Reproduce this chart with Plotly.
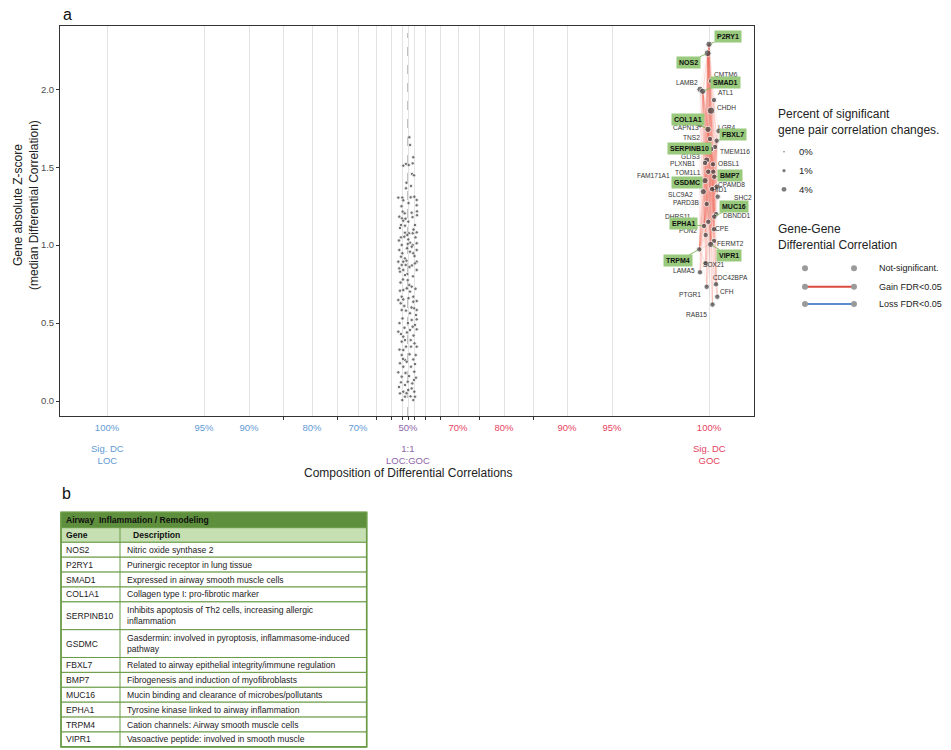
import numpy as np
import plotly.graph_objects as go

FONT = "Liberation Sans, Arial, sans-serif"

# ---------------- data ----------------
# genes without significant differential correlation (cloud at 1:1)
cloud_pos_top = [1.3, 2.0, 5.3, -4.7, -2.0, 0.7, 4.7, 4.0, 6.0, -2.0,
                 -9.7, -5.7, -4.7, 2.7, 6.3, 8.7, 8.7, -5.3, -3.3, 3.7,
                 9.0, 9.0, -8.7, -6.0]
cloud_z_top = [1.692, 1.643, 1.564, 1.510, 1.521, 1.514, 1.525, 1.457, 1.448, 1.365,
               1.305, 1.305, 1.288, 1.307, 1.311, 1.290, 1.256, 1.215, 1.204, 1.208,
               1.217, 1.192, 1.183, 1.172]
cloud_pos_mid = [-4.7, -7.0, -3.0, 0.3, 7.0, 8.7, 4.7, 1.0, -3.0, -0.7,
                 -3.7, -7.0, 0.3, 2.0, -0.3, 4.7, 8.7, -6.3, 3.7, 8.7,
                 -8.7, 2.0, -5.7, 5.3, -7.0, -3.0, -4.7, 8.7, 7.0, -9.7,
                 -6.3, -2.3, -8.7, -4.7, -8.0, -0.7, -3.0, 8.7, -0.3, 1.3,
                 3.7, -1.3, -4.7, -8.0, 2.0, -6.3, -4.7, 5.3, -9.7, -7.3,
                 -3.7, -6.3, 8.7, 5.3, 6.0, 8.7, 2.0, 8.0, 8.7, 3.7,
                 7.0, 4.7, 8.7, 2.0, -9.7, -7.0, -4.7, -3.0, 2.7, -6.3,
                 8.7, 3.0, -2.0, -4.7, -6.3, -3.0, 7.7, 5.3, 7.0, -8.0,
                 -1.3, -4.7, -9.7, -6.3, 6.3, 6.0, -0.3, -3.0, 4.3, 3.7,
                 -4.7, -8.0, 6.3, 7.0, -3.0, 0.3, -5.7, 5.3]
cloud_z_mid = [1.157, 1.129, 1.125, 1.151, 1.129, 1.082, 1.076, 1.076, 1.080, 1.065,
               1.054, 1.050, 1.037, 1.016, 1.008, 1.001, 1.012, 1.001, 0.990, 0.969,
               0.969, 0.958, 0.948, 0.948, 0.926, 0.915, 0.894, 0.894, 0.883, 0.894,
               0.873, 0.873, 0.851, 0.841, 0.830, 0.815, 0.808, 0.841, 0.776, 0.744,
               0.734, 0.723, 0.712, 0.708, 0.702, 0.669, 0.652, 0.669, 0.648, 0.627,
               0.610, 0.584, 0.642, 0.637, 0.595, 0.584, 0.563, 0.552, 0.524, 0.520,
               0.488, 0.477, 0.460, 0.456, 0.445, 0.430, 0.413, 0.391, 0.391, 0.381,
               0.349, 0.349, 0.349, 0.327, 0.295, 0.263, 0.295, 0.267, 0.237, 0.242,
               0.252, 0.220, 0.184, 0.156, 0.188, 0.135, 0.124, 0.103, 0.113, 0.081,
               0.060, 0.049, 0.060, 0.028, 0.028, 0.071, 0.006, 0.006]
cloud_pos_low = [-1.5, 3.0, -6.5, 0.5, -8.0, 5.5, -1.0, 6.5, -5.0, 5.0,
                 -7.5, 7.5, 0.5, -2.0, 3.5, -5.5, 0.0, -8.5, 5.5, -1.0,
                 6.5, -8.5, 1.5, -5.0, 3.0, -2.5, 8.0, -7.0, 1.0, -1.5,
                 2.5, -9.0, 4.5, -2.5, 7.5, -9.0, 1.5, -1.5, 4.0, -3.5]
cloud_z_low = [1.40, 1.38, 1.25, 1.27, 1.11, 1.10, 0.98, 0.93, 0.78, 0.80,
               0.76, 0.72, 0.66, 0.58, 0.60, 0.53, 0.50, 0.50, 0.42, 0.44,
               0.37, 0.33, 0.30, 0.27, 0.22, 0.18, 0.15, 0.12, 0.16, 0.05,
               0.03, 0.09, 1.18, 1.17, 1.05, 1.03, 0.86, 0.90, 0.87, 0.47]

# genes with significant gain of correlation (GOC side)
gene_names = ["P2RY1", "NOS2", "CMTM6", "LAMB2", "SMAD1", "ATL1", "CHDH", "CAPN13",
              "COL1A1", "LGR4", "TNS2", "FBXL7", "TMEM116", "SERPINB10", "GLIS3",
              "PLXNB1", "OBSL1", "TOM1L1", "FAM171A1", "BMP7", "GSDMC", "CPAMD8",
              "HID1", "SLC9A2", "SHC2", "PARD3B", "DBNDD1", "MUC16", "DHRS11",
              "EPHA1", "CPE", "PON2", "FERMT2", "VIPR1", "TRPM4", "SOX21", "LAMA5",
              "CDC42BPA", "PTGR1", "CFH", "RAB15"]
gene_pos = [301, 299.7, 303, 292, 294.7, 306, 303, 292, 300, 310.5, 302, 308.7, 307,
            302.7, 298.7, 297, 305, 300.3, 305.3, 306.3, 297, 308.7, 304, 295.3,
            309.7, 298.7, 308, 306.3, 300.3, 296, 306, 297.7, 306, 302.7, 291.3,
            297.7, 292, 308, 298.7, 309.3, 304.5]
gene_z = [2.289, 2.231, 2.053, 2.000, 1.987, 1.931, 1.863, 1.769, 1.743, 1.732,
          1.681, 1.670, 1.630, 1.617, 1.546, 1.527, 1.519, 1.471, 1.471, 1.439,
          1.414, 1.375, 1.360, 1.343, 1.311, 1.264, 1.200, 1.183, 1.150, 1.123,
          1.102, 1.065, 1.027, 1.005, 0.973, 0.884, 0.826, 0.749, 0.733, 0.669, 0.619]
gene_pct = [2, 3, 1, 2, 2, 1, 4, 1, 2, 1, 1, 1, 1, 2, 2, 1, 1, 1, 1, 1, 2, 1, 1, 2,
            1, 1, 1, 1, 1, 1, 1, 1, 1, 2, 1, 1, 1, 1, 1, 1, 1]
highlight_genes = ["P2RY1", "NOS2", "SMAD1", "COL1A1", "FBXL7", "SERPINB10", "BMP7",
                   "GSDMC", "MUC16", "EPHA1", "VIPR1", "TRPM4"]

# x axis (composition scale)
major_tick_pos = [-301, -204, -159, -96, -50, 0, 50, 96, 159, 204, 301]
major_tick_text = ["100%", "95%", "90%", "80%", "70%", "50%", "70%", "80%", "90%", "95%", "100%"]
minor_tick_pos = [-125, -71, -32, -17, -6, 6, 17, 32, 71, 125]

size_legend_pct = [0, 1, 4]
size_legend_text = ["0%", "1%", "4%"]
dc_legend_text = ["Not-significant.", "Gain FDR<0.05", "Loss FDR<0.05"]

table_title = "Airway  Inflammation / Remodeling"
table_header = ["Gene", "Description"]
table_genes = ["NOS2", "P2RY1", "SMAD1", "COL1A1", "SERPINB10", "GSDMC", "FBXL7",
               "BMP7", "MUC16", "EPHA1", "TRPM4", "VIPR1"]
table_desc = ["Nitric oxide synthase 2",
              "Purinergic receptor in lung tissue",
              "Expressed in airway smooth muscle cells",
              "Collagen type I: pro-fibrotic marker",
              "Inhibits apoptosis of Th2 cells, increasing allergic<br>inflammation",
              "Gasdermin: involved in pyroptosis, inflammasome-induced<br>pathway",
              "Related to airway epithelial integrity/immune regulation",
              "Fibrogenesis and induction of myofibroblasts",
              "Mucin binding and clearance of microbes/pollutants",
              "Tyrosine kinase linked to airway inflammation",
              "Cation channels: Airway smooth muscle cells",
              "Vasoactive peptide: involved in smooth muscle"]

# ---------------- layout helpers (label placement) ----------------
label_xy = {"CMTM6": (317.7, 2.096), "LAMB2": (278.7, 2.045), "ATL1": (318, 1.978),
            "CHDH": (318.7, 1.886), "LGR4": (319, 1.758), "CAPN13": (277.7, 1.756),
            "TNS2": (283.7, 1.692), "TMEM116": (327, 1.604), "GLIS3": (282, 1.568),
            "PLXNB1": (275, 1.521), "OBSL1": (321, 1.521), "TOM1L1": (279.7, 1.465),
            "FAM171A1": (245, 1.446), "CPAMD8": (323.7, 1.386), "HID1": (311.3, 1.354),
            "SLC9A2": (272, 1.328), "SHC2": (334.7, 1.307), "PARD3B": (277.7, 1.275),
            "DBNDD1": (328.7, 1.193), "DHRS11": (270.3, 1.187), "PON2": (279.7, 1.091),
            "CPE": (313.7, 1.108), "FERMT2": (322.7, 1.012), "SOX21": (306, 0.877),
            "LAMA5": (276.3, 0.836), "CDC42BPA": (322.7, 0.794), "PTGR1": (282, 0.682),
            "CFH": (319.3, 0.704), "RAB15": (288.7, 0.552)}
box_xy = {"P2RY1": (320, 2.338), "NOS2": (280, 2.175), "SMAD1": (317, 2.045),
          "COL1A1": (280, 1.809), "FBXL7": (325, 1.707), "SERPINB10": (281, 1.617),
          "BMP7": (322, 1.450), "GSDMC": (278.7, 1.405), "MUC16": (326, 1.251),
          "EPHA1": (275.3, 1.136), "VIPR1": (321.3, 0.932), "TRPM4": (270.3, 0.900)}

BLUE, PURPLE, RED = "#5f9bd6", "#8e66a8", "#e5445f"
GREEN_BOX, GREEN_LINE = "#98c97c", "#7db65a"
TBL_LINE, TBL_DARK, TBL_LIGHT = "#6a9b45", "#5e8f3c", "#c6e0b4"
PT_COLOR = "#3d3d3d"

# the page shows the figure with an 8px body margin
OFF = 8
FIG_W, FIG_H = 951 - OFF, 750 - OFF


def fx(px):
    return (px - OFF) / FIG_W


def fy(py):
    return 1 - (py - OFF) / FIG_H


def pt_size(p):
    return 3.4 + 2.0 * np.sqrt(np.asarray(p, dtype=float))


cloud_pos = cloud_pos_top + cloud_pos_mid + cloud_pos_low
cloud_z = cloud_z_top + cloud_z_mid + cloud_z_low

fig = go.Figure()

# gain-of-correlation network lines (one trace per hub so overlaps build up)
gx = dict(zip(gene_names, gene_pos))
gz = dict(zip(gene_names, gene_z))
for hub in highlight_genes:
    xs, ys = [], []
    for g in gene_names:
        if g == hub:
            continue
        xs += [gx[hub], gx[g], None]
        ys += [gz[hub], gz[g], None]
    fig.add_trace(go.Scatter(x=xs, y=ys, mode="lines", hoverinfo="skip",
                             line=dict(color="rgba(234,100,90,0.075)", width=0.8),
                             showlegend=False))

fig.add_trace(go.Scatter(x=cloud_pos, y=cloud_z, mode="markers", showlegend=False,
                         marker=dict(size=pt_size(np.zeros(len(cloud_pos))), color=PT_COLOR,
                                     line=dict(color="white", width=0.8))))
fig.add_trace(go.Scatter(x=gene_pos, y=gene_z, mode="markers", showlegend=False,
                         text=gene_names,
                         marker=dict(size=pt_size(gene_pct), color=PT_COLOR,
                                     line=dict(color="white", width=0.9))))

# ----- legend drawn on an overlay pixel axis -----
lx = [784] * 3
ly = [151.7, 170.7, 189.3]
fig.add_trace(go.Scatter(x=lx, y=ly, xaxis="x2", yaxis="y2", mode="markers", showlegend=False,
                         marker=dict(size=1.6 + 1.6 * np.sqrt(np.array(size_legend_pct, float)),
                                     color="#444", line=dict(width=0))))
dc_y = [268.3, 286.7, 304]
dc_colors = [None, "#dc4a3f", "#5b8bd0"]
for yy, cc in zip(dc_y, dc_colors):
    if cc:
        fig.add_trace(go.Scatter(x=[805, 854], y=[yy, yy], xaxis="x2", yaxis="y2", mode="lines",
                                 showlegend=False, line=dict(color=cc, width=2)))
    fig.add_trace(go.Scatter(x=[805, 854], y=[yy, yy], xaxis="x2", yaxis="y2", mode="markers",
                             showlegend=False, marker=dict(size=6, color="#9a9a9a")))

ann = []
shapes = []
# plain labels
for g, (x, y) in label_xy.items():
    ann.append(dict(x=x, y=y, xref="x", yref="y", text=g, showarrow=False,
                    font=dict(family=FONT, size=6.6, color="#333")))
# boxed labels with leaders
for g, (x, y) in box_xy.items():
    ann.append(dict(x=gx[g], y=gz[g], xref="x", yref="y", ax=x, ay=y, axref="x", ayref="y",
                    text="<b>%s</b>" % g, showarrow=True, arrowhead=0, arrowwidth=0.9,
                    arrowcolor=GREEN_LINE, standoff=2, bgcolor=GREEN_BOX, borderpad=2,
                    font=dict(family=FONT, size=7, color="#111")))


def pann(x, y, text, size=9.5, color="#222", xanchor="center", **kw):
    d = dict(x=x, y=y, xref="x2", yref="y2", text=text, showarrow=False, xanchor=xanchor,
             yanchor="middle", font=dict(family=FONT, size=size, color=color))
    d.update(kw)
    ann.append(d)


pann(67, 14, "a", size=16, color="#111")
pann(66, 493, "b", size=16, color="#111")
pann(26, 205, "Gene absolute Z-score<br>(median Differential Correlation)", size=12,
     textangle=-90)
pann(107, 454.5, "Sig. DC<br>LOC", color=BLUE)
pann(408, 454.5, "1:1<br>LOC:GOC", color=PURPLE)
pann(709, 454.5, "Sig. DC<br>GOC", color=RED)
pann(408, 473, "Composition of Differential Correlations", size=12)
pann(776, 122, "Percent of significant<br>gene pair correlation changes.", size=12,
     xanchor="left", align="left")
for yy, t in zip(ly, size_legend_text):
    pann(797, yy, t, size=9.5, xanchor="left")
pann(776, 237, "Gene-Gene<br>Differential Correlation", size=12, xanchor="left", align="left")
for yy, t in zip(dc_y, dc_legend_text):
    pann(877, yy, t, size=9, xanchor="left")

# ----- table (panel b) built from its rows -----
T_L, T_DIV, T_R = 61, 120, 366.7
T_TOP, TITLE_H, HEAD_H, ROW_H, ROW_H2 = 512.3, 15.4, 14.6, 14.9, 27.8
shapes.append(dict(type="rect", xref="x2", yref="y2", x0=T_L, x1=T_R, y0=T_TOP,
                   y1=T_TOP + TITLE_H, fillcolor=TBL_DARK, line=dict(color=TBL_DARK, width=1)))
pann(T_L + 2.5, T_TOP + TITLE_H / 2, "<b>" + table_title + "</b>", size=8.6, color="#111",
     xanchor="left")
y0 = T_TOP + TITLE_H
shapes.append(dict(type="rect", xref="x2", yref="y2", x0=T_L, x1=T_R, y0=y0, y1=y0 + HEAD_H,
                   fillcolor=TBL_LIGHT, line=dict(color=TBL_LINE, width=1)))
pann(T_L + 2.5, y0 + HEAD_H / 2, "<b>%s</b>" % table_header[0], size=8.6, color="#111",
     xanchor="left")
pann(T_DIV + 11, y0 + HEAD_H / 2, "<b>%s</b>" % table_header[1], size=8.6, color="#111",
     xanchor="left")
yc = y0 + HEAD_H
for g, d in zip(table_genes, table_desc):
    h = ROW_H2 if "<br>" in d else ROW_H
    shapes.append(dict(type="rect", xref="x2", yref="y2", x0=T_L, x1=T_R, y0=yc, y1=yc + h,
                       fillcolor="white", line=dict(color=TBL_LINE, width=1)))
    pann(T_L + 2.5, yc + h / 2, g, size=8.6, color="#222", xanchor="left")
    pann(T_DIV + 5, yc + h / 2, d, size=8.6, color="#222", xanchor="left", align="left")
    yc += h
shapes.append(dict(type="line", xref="x2", yref="y2", x0=T_DIV, x1=T_DIV, y0=y0, y1=yc,
                   line=dict(color=TBL_LINE, width=1)))
shapes.append(dict(type="rect", xref="x2", yref="y2", x0=T_L, x1=T_R, y0=T_TOP, y1=yc,
                   line=dict(color=TBL_LINE, width=1.6)))

tick_text = []
for p, t in zip(major_tick_pos, major_tick_text):
    c = BLUE if p < 0 else (RED if p > 0 else PURPLE)
    tick_text.append("<span style='color:%s'>%s</span>" % (c, t))

shapes.insert(0, dict(type="line", xref="x", yref="y domain", x0=0, x1=0, y0=0, y1=0.982,
                      line=dict(color="#adadad", width=1.5, dash="dash"), layer="below"))

fig.update_layout(
    width=FIG_W, height=FIG_H, autosize=False,
    margin=dict(l=0, r=0, t=0, b=0),
    paper_bgcolor="white", plot_bgcolor="rgba(0,0,0,0)",
    font=dict(family=FONT),
    showlegend=False,
    xaxis=dict(domain=[fx(60), fx(754)], range=[-348, 346], tickmode="array",
               tickvals=major_tick_pos, ticktext=tick_text, ticks="",
               ticklabelstandoff=3,
               tickfont=dict(family=FONT, size=9.5), showgrid=True, gridcolor="#e3e3e3",
               gridwidth=1.3, zeroline=False, showline=True, mirror=True,
               linecolor="#333", linewidth=1, anchor="y",
               minor=dict(tickmode="array", tickvals=minor_tick_pos + [0.01], ticks="outside",
                          ticklen=3, tickcolor="#333", tickwidth=1, showgrid=True,
                          gridcolor="#e3e3e3", gridwidth=1.3)),
    yaxis=dict(domain=[fy(416), fy(26)], range=[-0.096, 2.406], tickmode="array",
               tickvals=[0, 0.5, 1.0, 1.5, 2.0], ticktext=["0.0", "0.5", "1.0", "1.5", "2.0"],
               ticks="outside", ticklen=3, tickcolor="#333", showgrid=False, zeroline=False,
               tickfont=dict(family=FONT, size=9.5, color="#4d4d4d"),
               showline=True, mirror=True, linecolor="#333", linewidth=1, anchor="x"),
    xaxis2=dict(domain=[0, 1], range=[OFF, 951], visible=False, anchor="y2"),
    yaxis2=dict(domain=[0, 1], range=[750, OFF], visible=False, anchor="x2"),
    annotations=ann,
    shapes=shapes,
)

fig.write_html("out.html")
